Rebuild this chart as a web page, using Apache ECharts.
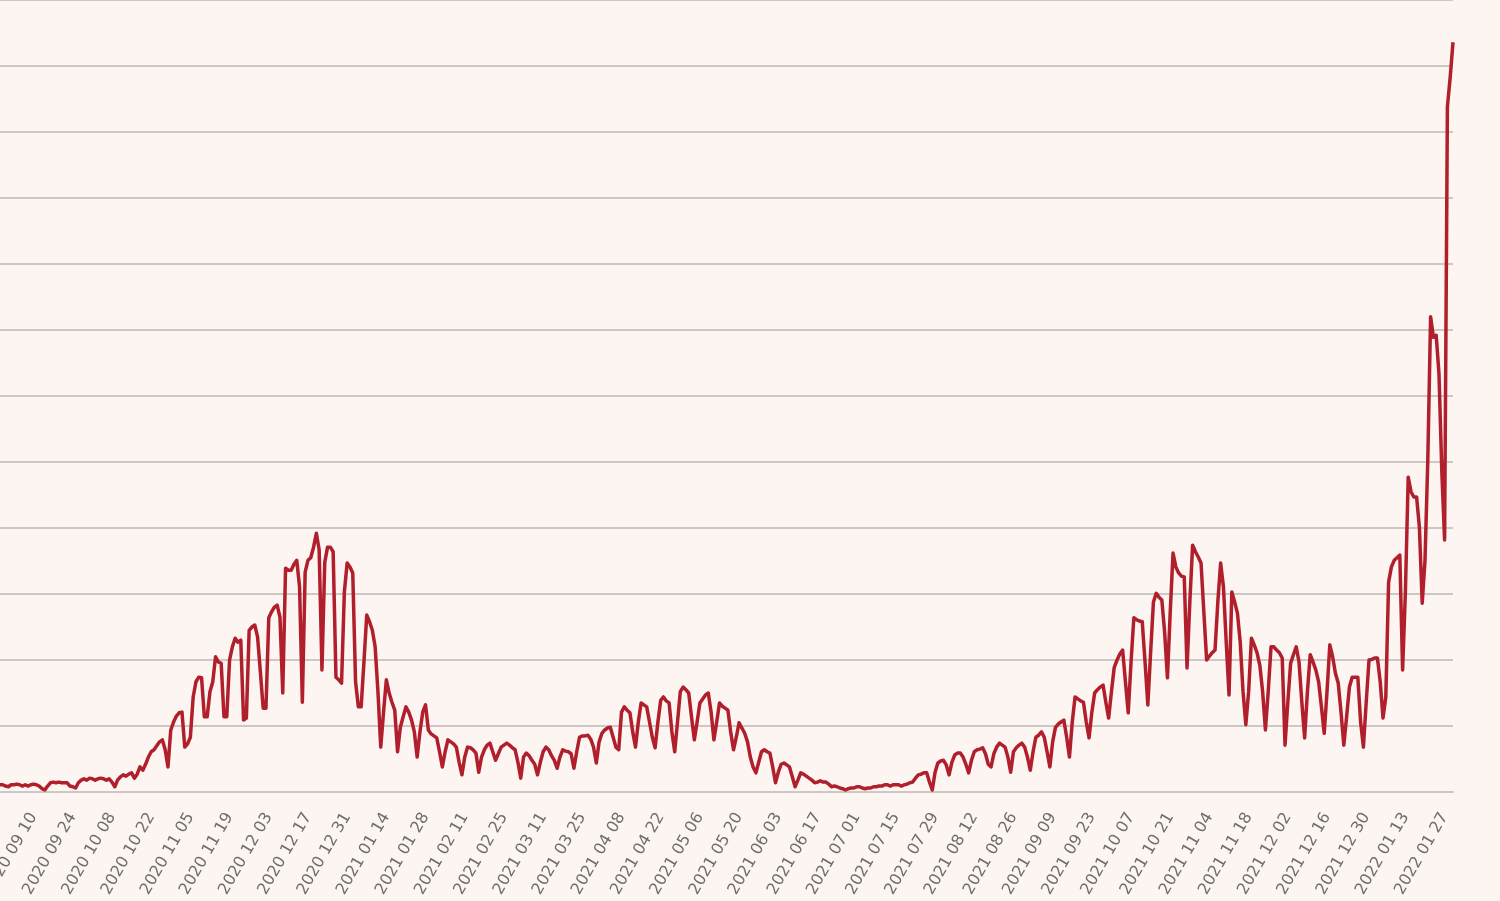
<!DOCTYPE html>
<html>
<head>
<meta charset="utf-8">
<script src="https://cdn.jsdelivr.net/npm/echarts@6/dist/echarts.min.js"></script>
<style>
html,body{margin:0;padding:0;background:#fcf5f2;}
#chart{width:1500px;height:901px;}
</style>
</head>
<body>
<div id="chart"></div>
<script>
// first day of the daily series
const startDate = '2020-08-29';

// x-axis tick labels (every 14 days)
const tickLabels = [
  '2020-09-10','2020-09-24','2020-10-08','2020-10-22','2020-11-05','2020-11-19','2020-12-03','2020-12-17','2020-12-31',
  '2021-01-14','2021-01-28','2021-02-11','2021-02-25','2021-03-11','2021-03-25','2021-04-08','2021-04-22','2021-05-06',
  '2021-05-20','2021-06-03','2021-06-17','2021-07-01','2021-07-15','2021-07-29','2021-08-12','2021-08-26','2021-09-09',
  '2021-09-23','2021-10-07','2021-10-21','2021-11-04','2021-11-18','2021-12-02','2021-12-16','2021-12-30','2022-01-13','2022-01-27'
];

// daily values, 2020-08-29 .. 2022-01-30
const dailyCases = [
  110,110,90,80,110,110,120,110,90,110,
  90,110,120,110,90,50,30,90,140,150,
  140,150,140,140,140,90,80,60,140,180,
  200,180,210,200,180,200,210,200,180,200,
  150,80,180,230,260,240,270,290,210,270,
  380,330,420,530,610,640,700,760,790,640,
  380,940,1060,1150,1200,1210,680,730,830,1440,
  1670,1740,1730,1140,1140,1520,1670,2050,1970,1950,
  1140,1140,2000,2200,2330,2270,2300,1090,1120,2450,
  2500,2530,2350,1820,1270,1270,2640,2730,2800,2830,
  2650,1500,3390,3360,3360,3450,3510,3110,1360,3330,
  3510,3550,3710,3920,3670,1850,3480,3710,3710,3640,
  1740,1700,1650,3030,3470,3410,3320,1670,1290,1290,
  1970,2680,2580,2450,2200,1520,680,1210,1700,1500,
  1360,1240,610,980,1140,1290,1210,1090,910,530,
  910,1210,1320,940,880,850,820,610,380,610,
  790,760,730,680,450,260,530,680,670,640,
  590,300,530,640,710,740,610,480,580,680,
  710,740,710,670,640,450,210,530,590,550,
  480,420,260,450,610,680,640,550,480,360,
  530,640,620,610,580,360,610,830,850,850,
  860,800,680,440,760,890,940,970,980,830,
  680,640,1210,1290,1240,1200,910,680,1060,1350,
  1320,1290,1060,830,670,1060,1390,1440,1380,1350,
  910,610,1060,1520,1590,1550,1500,1140,790,1060,
  1350,1410,1470,1500,1210,790,1060,1350,1300,1270,
  1240,910,640,830,1050,970,890,760,530,380,
  290,450,610,640,610,590,380,140,300,420,
  440,410,380,230,80,180,290,270,240,210,
  180,140,150,170,150,150,120,80,90,80,
  60,50,30,50,60,60,80,80,60,50,
  60,60,80,80,90,90,110,110,90,110,
  110,110,90,110,120,140,150,210,260,270,
  290,290,150,30,300,440,470,480,410,260,
  450,560,590,590,530,420,290,480,610,640,
  650,670,580,420,380,580,680,740,710,680,
  530,300,610,670,710,740,680,530,330,610,
  830,860,910,830,610,380,760,980,1030,1060,
  1090,830,530,1060,1440,1410,1380,1360,1060,820,
  1210,1500,1550,1590,1620,1360,1120,1520,1890,2000,
  2090,2150,1670,1200,1970,2640,2610,2590,2580,1970,
  1320,2120,2880,3010,2950,2910,2420,1730,2730,3620,
  3410,3320,3270,3260,1880,2880,3740,3640,3560,3470,
  2730,2000,2060,2110,2150,2880,3470,3110,2270,1470,
  3030,2880,2710,2270,1520,1020,1520,2330,2230,2110,
  1920,1520,940,1520,2200,2200,2150,2110,2030,710,
  1360,1950,2080,2200,1970,1360,820,1520,2080,1970,
  1850,1670,1290,890,1520,2230,2050,1800,1650,1210,
  710,1140,1590,1740,1740,1740,1060,680,1360,2000,
  2010,2030,2030,1670,1120,1440,3180,3410,3510,3550,
  3590,1850,3030,4770,4550,4470,4470,4010,2860,3510,
  5030,7200,6890,6920,6330,4860,3820,10380,10830,11360
];

// build the date categories for each daily value
const dates = [];
(function () {
  const p = startDate.split('-').map(Number);
  const d0 = Date.UTC(p[0], p[1] - 1, p[2]);
  for (let i = 0; i < dailyCases.length; i++) {
    const d = new Date(d0 + i * 86400000);
    const s = d.getUTCFullYear() + '-' + String(d.getUTCMonth() + 1).padStart(2, '0') + '-' + String(d.getUTCDate()).padStart(2, '0');
    dates.push(s);
  }
})();
const tickSet = new Set(tickLabels);

const chart = echarts.init(document.getElementById('chart'), null, { renderer: 'canvas' });
chart.setOption({
  animation: false,
  backgroundColor: '#fcf5f2',
  grid: { left: 0, right: 47, top: 0, bottom: 109, containLabel: false, outerBoundsMode: 'none' },
  xAxis: {
    type: 'category',
    data: dates,
    boundaryGap: false,
    axisLine: { show: true, lineStyle: { color: '#cdc8c6', width: 2 } },
    axisTick: { show: false },
    axisLabel: {
      interval: function (index, value) { return tickSet.has(value); },
      rotate: 60,
      margin: 22,
      color: '#6e6e6e',
      fontSize: 16,
      fontFamily: 'DejaVu Sans',
      hideOverlap: false,
      formatter: function (v) { return v.replace(/-/g, ' '); }
    },
    splitLine: { show: false }
  },
  yAxis: {
    type: 'value',
    min: 0,
    max: 12000,
    interval: 1000,
    axisLine: { show: false },
    axisTick: { show: false },
    axisLabel: { show: false },
    splitLine: { show: true, lineStyle: { color: '#cdc8c6', width: 2 } }
  },
  series: [{
    type: 'line',
    data: dailyCases,
    showSymbol: false,
    symbol: 'none',
    lineStyle: { color: '#b01f2b', width: 3.5, join: 'round' },
    z: 3
  }]
});
</script>
</body>
</html>
